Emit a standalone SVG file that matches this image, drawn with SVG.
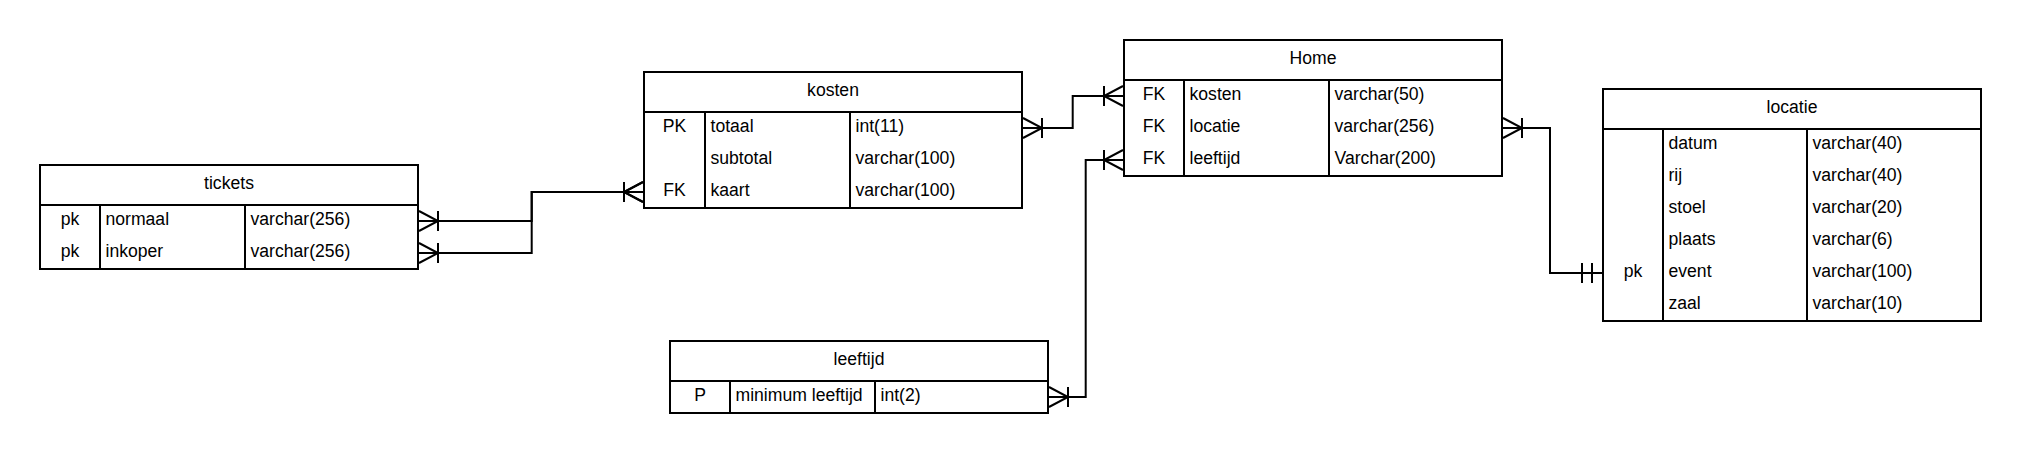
<svg xmlns="http://www.w3.org/2000/svg" width="2020" height="453" viewBox="0 0 2020 453">
<style>
.box{fill:#fff;stroke:#000;stroke-width:2}
.ln{stroke:#000;stroke-width:2;fill:none}
text{font-family:"Liberation Sans",Arial,sans-serif;font-size:17.6px;fill:#000}
.c{text-anchor:middle}
.conn{stroke:#000;stroke-width:2;fill:none;marker-start:url(#many);marker-end:url(#many)}
</style>
<defs>
<marker id="many" markerUnits="userSpaceOnUse" markerWidth="30" markerHeight="30" refX="0" refY="0" orient="auto-start-reverse" overflow="visible">
<path d="M-1,-10 L-20,0 L-1,10 M-20,-10 V10" stroke="#000" stroke-width="2" fill="none"/>
</marker>
<marker id="mandOne" markerUnits="userSpaceOnUse" markerWidth="30" markerHeight="30" refX="0" refY="0" orient="auto" overflow="visible">
<path d="M-21,-10 V10 M-11,-10 V10" stroke="#000" stroke-width="2" fill="none"/>
</marker>
</defs>
<rect width="2020" height="453" fill="#fff"/>
<g id="connectors">
<path class="conn" d="M418,221 H531.7 V192 H644"/>
<path class="conn" d="M418,253 H531.7 V192 H644"/>
<path class="conn" d="M1022,128 H1072.7 V96 H1124"/>
<path class="conn" d="M1048,397 H1085.7 V160 H1124"/>
<path class="conn" style="marker-end:url(#mandOne)" d="M1502,128 H1550 V273 H1603"/>
</g>
<g id="tickets">
<rect class="box" x="40" y="165" width="378" height="104"/>
<path class="ln" d="M40,205 H418 M100,205 V269 M245,205 V269"/>
<text class="c" x="229" y="189">tickets</text>
<text class="c" x="70" y="225">pk</text><text x="105.5" y="225">normaal</text><text x="250.5" y="225">varchar(256)</text>
<text class="c" x="70" y="257">pk</text><text x="105.5" y="257">inkoper</text><text x="250.5" y="257">varchar(256)</text>
</g>
<g id="kosten">
<rect class="box" x="644" y="72" width="378" height="136"/>
<path class="ln" d="M644,112 H1022 M705,112 V208 M850,112 V208"/>
<text class="c" x="833" y="96">kosten</text>
<text class="c" x="674.5" y="132">PK</text><text x="710.5" y="132">totaal</text><text x="855.5" y="132">int(11)</text>
<text x="710.5" y="164">subtotal</text><text x="855.5" y="164">varchar(100)</text>
<text class="c" x="674.5" y="196">FK</text><text x="710.5" y="196">kaart</text><text x="855.5" y="196">varchar(100)</text>
</g>
<g id="home">
<rect class="box" x="1124" y="40" width="378" height="136"/>
<path class="ln" d="M1124,80 H1502 M1184,80 V176 M1329,80 V176"/>
<text class="c" x="1313" y="64">Home</text>
<text class="c" x="1154" y="100">FK</text><text x="1189.5" y="100">kosten</text><text x="1334.5" y="100">varchar(50)</text>
<text class="c" x="1154" y="132">FK</text><text x="1189.5" y="132">locatie</text><text x="1334.5" y="132">varchar(256)</text>
<text class="c" x="1154" y="164">FK</text><text x="1189.5" y="164">leeftijd</text><text x="1334.5" y="164">Varchar(200)</text>
</g>
<g id="leeftijd">
<rect class="box" x="670" y="341" width="378" height="72"/>
<path class="ln" d="M670,381 H1048 M730,381 V413 M875,381 V413"/>
<text class="c" x="859" y="365">leeftijd</text>
<text class="c" x="700" y="401">P</text><text x="735.5" y="401">minimum leeftijd</text><text x="880.5" y="401">int(2)</text>
</g>
<g id="locatie">
<rect class="box" x="1603" y="89" width="378" height="232"/>
<path class="ln" d="M1603,129 H1981 M1663,129 V321 M1807,129 V321"/>
<text class="c" x="1792" y="113">locatie</text>
<text x="1668.5" y="149">datum</text><text x="1812.5" y="149">varchar(40)</text>
<text x="1668.5" y="181">rij</text><text x="1812.5" y="181">varchar(40)</text>
<text x="1668.5" y="213">stoel</text><text x="1812.5" y="213">varchar(20)</text>
<text x="1668.5" y="245">plaats</text><text x="1812.5" y="245">varchar(6)</text>
<text class="c" x="1633" y="277">pk</text><text x="1668.5" y="277">event</text><text x="1812.5" y="277">varchar(100)</text>
<text x="1668.5" y="309">zaal</text><text x="1812.5" y="309">varchar(10)</text>
</g>
</svg>
